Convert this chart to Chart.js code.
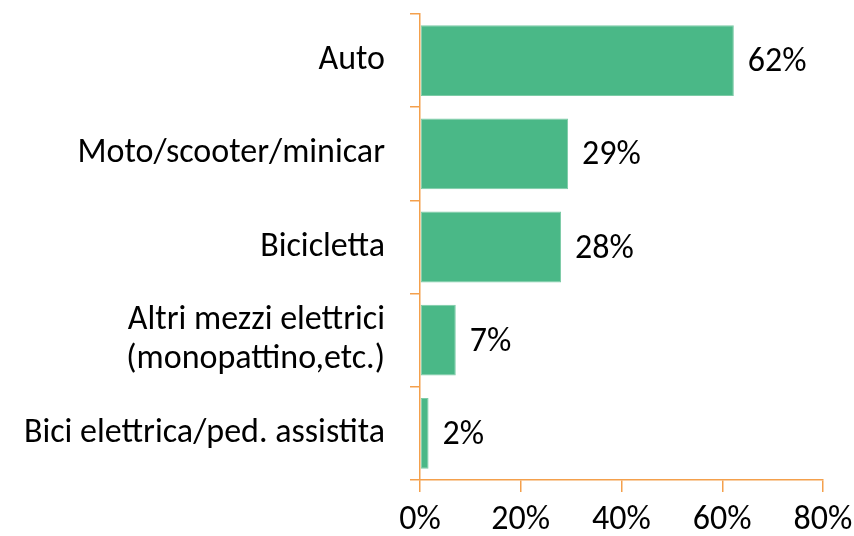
<!DOCTYPE html>
<html>
<head>
<meta charset="utf-8">
<script src="https://cdn.jsdelivr.net/npm/chart.js@4/dist/chart.umd.min.js"></script>
<style>
  html, body { margin: 0; padding: 0; background: #ffffff; }
  #wrap { width: 854px; height: 536px; position: relative; }
</style>
</head>
<body>
<div id="wrap"><canvas id="c"></canvas></div>
<script>
const categories = ["Auto", "Moto/scooter/minicar", "Bicicletta", ["Altri mezzi elettrici", "(monopattino,etc.)"], "Bici elettrica/ped. assistita"];
const values = [62.3, 29.4, 28.0, 7.1, 1.7];
const xTicks = [0, 20, 40, 60, 80];

const FONT = "Carlito, 'Open Sans', sans-serif";
const ORANGE = "#F4A04C";
const GREEN = "#4AB887";

const valueLabels = {
  id: 'valueLabels',
  afterDatasetsDraw(chart) {
    const ctx = chart.ctx;
    const meta = chart.getDatasetMeta(0);
    ctx.save();
    ctx.font = "34px " + FONT;
    ctx.fillStyle = "#000000";
    ctx.textAlign = "left";
    ctx.textBaseline = "middle";
    meta.data.forEach((bar, i) => {
      ctx.fillText(Math.round(values[i]) + "%", bar.x + 14, bar.y + 2);
    });
    ctx.restore();
  }
};

new Chart(document.getElementById('c'), {
  type: 'bar',
  data: {
    labels: categories,
    datasets: [{
      data: values,
      backgroundColor: GREEN,
      borderColor: "#7CCBA6",
      borderWidth: 1,
      borderSkipped: false,
      categoryPercentage: 1.0,
      barPercentage: 0.76
    }]
  },
  options: {
    indexAxis: 'y',
    responsive: true,
    maintainAspectRatio: false,
    animation: false,
    layout: { padding: { top: 14, right: 31, left: 0, bottom: 0 } },
    plugins: { legend: { display: false }, tooltip: { enabled: false } },
    scales: {
      x: {
        min: 0, max: 80,
        afterBuildTicks(scale) { scale.ticks = xTicks.map(v => ({ value: v })); },
        afterFit(scale) { scale.height = 56; scale.paddingLeft = 0; scale.paddingRight = 0; },
        grid: { drawOnChartArea: false, drawTicks: true, tickLength: 12, color: ORANGE, lineWidth: 1.5 },
        border: { display: true, color: ORANGE, width: 1.5 },
        ticks: {
          color: "#000000",
          font: { family: FONT, size: 34 },
          padding: 8,
          maxRotation: 0,
          callback: v => v + "%"
        }
      },
      y: {
        afterFit(scale) { scale.width = 420; scale.paddingTop = 0; scale.paddingBottom = 0; },
        grid: { drawOnChartArea: false, drawTicks: true, tickLength: 10, offset: true, color: ORANGE, lineWidth: 1.5 },
        border: { display: true, color: ORANGE, width: 1.5 },
        ticks: {
          color: "#000000",
          font: { family: FONT, size: 34, lineHeight: 1.15 },
          padding: 25
        }
      }
    }
  },
  plugins: [valueLabels]
});
</script>
</body>
</html>
